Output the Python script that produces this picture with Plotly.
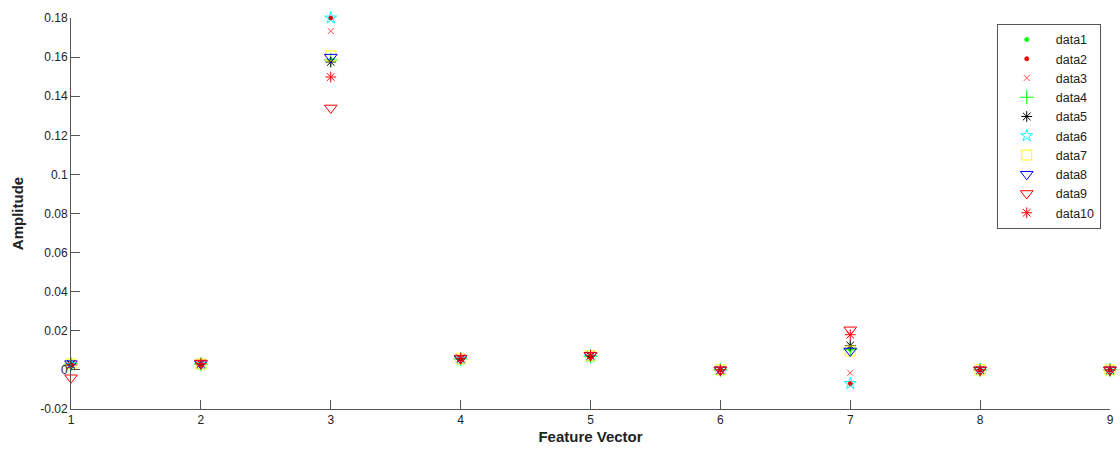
import plotly.graph_objects as go

# Feature vector indices
features = [1, 2, 3, 4, 5, 6, 7, 8, 9]

# Amplitude per feature for each data series
data1 = [0.0030, 0.0030, 0.1585, 0.0056, 0.0070, 0.0, 0.0105, 0.0, 0.0]
data2 = [0.0025, 0.0030, 0.1800, 0.0055, 0.0070, 0.0, -0.0070, 0.0, 0.0]
data3 = [0.0030, 0.0032, 0.1733, 0.0057, 0.0072, 0.0, -0.0015, 0.0, 0.0]
data4 = [0.0030, 0.0030, 0.1585, 0.0056, 0.0070, 0.0, 0.0105, 0.0, 0.0]
data5 = [0.0030, 0.0030, 0.1575, 0.0056, 0.0070, 0.0, 0.0125, 0.0, 0.0]
data6 = [0.0025, 0.0028, 0.1800, 0.0054, 0.0066, 0.0, -0.0070, 0.0, 0.0]
data7 = [0.0030, 0.0030, 0.1606, 0.0056, 0.0072, 0.0, 0.0097, 0.0, 0.0]
data8 = [0.0032, 0.0032, 0.1600, 0.0058, 0.0075, 0.0, 0.0097, 0.0, 0.0]
data9 = [-0.0040, 0.0035, 0.1340, 0.0060, 0.0074, 0.0, 0.0205, 0.0, 0.0]
data10 = [0.0025, 0.0032, 0.1498, 0.0060, 0.0075, 0.0, 0.0180, 0.0, 0.0]

series_names = ["data1", "data2", "data3", "data4", "data5",
                "data6", "data7", "data8", "data9", "data10"]
series_values = [data1, data2, data3, data4, data5,
                 data6, data7, data8, data9, data10]

# Marker style for each series (symbol, colour, size)
styles = [
    ("circle", "#00ff00", 4),
    ("circle", "#ff0000", 4),
    ("x-thin-open", "#ff5050", 6),
    ("cross-thin-open", "#00ff00", 10),
    ("asterisk-open", "#000000", 9),
    ("star-open", "#00ffff", 9),
    ("square-open", "#ffff00", 10),
    ("triangle-down-open", "#0000ff", 11),
    ("triangle-down-open", "#ff0000", 11),
    ("asterisk-open", "#ff0000", 9),
]

fig = go.Figure()
for name, vals, (sym, col, size) in zip(series_names, series_values, styles):
    fig.add_trace(go.Scatter(
        x=features, y=vals, mode="markers", name=name, cliponaxis=False,
        marker=dict(symbol=sym, color=col, size=size,
                    line=dict(color=col, width=1)),
    ))

axis_font = dict(family="Liberation Sans, Arial, sans-serif", size=12, color="#222")

fig.update_layout(
    width=1120, height=450,
    margin=dict(l=71, r=6, t=18, b=41),
    paper_bgcolor="white", plot_bgcolor="white",
    font=axis_font,
    showlegend=True,
    legend=dict(
        x=0.891, y=0.985, xanchor="left", yanchor="top",
        bordercolor="#555", borderwidth=1, bgcolor="white",
        font=dict(family="Liberation Sans, Arial, sans-serif", size=12.5, color="#222"),
        tracegroupgap=0, itemsizing="trace", itemwidth=48,
    ),
)

fig.update_xaxes(
    range=[1, 9], tickvals=features, ticktext=[str(v) for v in features],
    showgrid=False, zeroline=False, showline=True, linecolor="#555", linewidth=1,
    ticks="inside", ticklen=9, tickcolor="#555",
    tickfont=dict(size=12),
    title=dict(text="<b>Feature Vector</b>", font=dict(size=15), standoff=5),
)

ytick_vals = [-0.02, 0.0, 0.02, 0.04, 0.06, 0.08, 0.1, 0.12, 0.14, 0.16, 0.18]
ytick_text = ["-0.02", "0", "0.02", "0.04", "0.06", "0.08", "0.1",
              "0.12", "0.14", "0.16", "0.18"]
fig.update_yaxes(
    range=[-0.02, 0.18], tickvals=ytick_vals, ticktext=ytick_text,
    showgrid=False, zeroline=False, showline=True, linecolor="#555", linewidth=1,
    ticks="inside", ticklen=9, tickcolor="#555",
    tickfont=dict(size=12),
    title=dict(text="<b>Amplitude</b>", font=dict(size=15), standoff=12),
)

fig.write_html("out.html")
